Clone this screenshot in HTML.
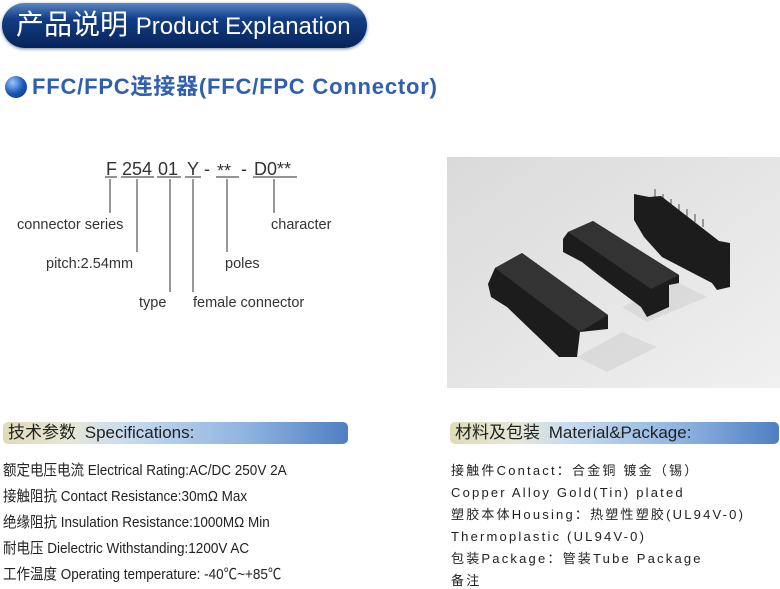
<!DOCTYPE html>
<html><head><meta charset="utf-8"><style>
body{margin:0;width:780px;height:575px;overflow:hidden;background:#fff;position:relative;font-family:"Liberation Sans","Noto Sans CJK SC",sans-serif}
.a{position:absolute;white-space:nowrap}
.hdr{left:2px;top:3px;width:365px;height:45px;border-radius:23px;background:linear-gradient(#5a86c4 0%,#123d85 35%,#062459 100%);box-shadow:0 1px 3px #789}
.bar{height:22px;border-radius:5px;background:linear-gradient(90deg,#dfdcb8 0%,#e6e7d6 20%,#c9dcef 35%,#8fb4e0 70%,#4f7fc4 100%)}
.sp{font-size:15px;line-height:16px;color:#222;transform:scaleX(.9);transform-origin:left}
.mp{font-size:13px;line-height:16px;color:#222;letter-spacing:2.2px}
</style></head><body>
<div class="a hdr"></div>
<div class="a" style="left:16px;top:7px;color:#fff;font-size:28px;line-height:36px">产品说明 <span style="font-size:24px">Product Explanation</span></div>
<div class="a" style="left:5px;top:76px;width:22px;height:22px;border-radius:50%;background:radial-gradient(circle at 35% 30%,#9cc4ff,#1e5bb8 50%,#0a2f70)"></div>
<div class="a" style="left:32px;top:73px;color:#2f5fae;font-size:22px;letter-spacing:.8px;font-weight:bold;line-height:28px">FFC/FPC连接器(FFC/FPC Connector)</div>

<svg class="a" style="left:0;top:150px" width="340" height="170">
<g font-family="Liberation Sans,sans-serif" font-size="18" fill="#333">
<text x="106" y="25">F</text><text x="122" y="25">254</text><text x="158" y="25">01</text><text x="187" y="25">Y</text><text x="204" y="25">-</text><text x="217" y="27">**</text><text x="241" y="25">-</text><text x="254" y="25">D0**</text>
</g>
<g stroke="#555" stroke-width="1.2" fill="none">
<path d="M105 27H117M121 27H154M157 27H181M185 27H201M216 27H239M253 27H297"/>
<path d="M110 29V63M137 29V102M170 29V142M193 29V142M227 29V102M274 29V63"/>
</g>
<g font-family="Liberation Sans,sans-serif" font-size="14.5" fill="#333">
<text x="17" y="79">connector series</text><text x="271" y="79">character</text>
<text x="46" y="118">pitch:2.54mm</text><text x="225" y="118">poles</text>
<text x="139" y="157">type</text><text x="193" y="157">female connector</text>
</g></svg>

<svg class="a" style="left:447px;top:157px" width="333" height="231">
<defs><linearGradient id="g" x1="0" y1="0" x2="1" y2="1"><stop offset="0" stop-color="#dadada"/><stop offset="1" stop-color="#f0f0f0"/></linearGradient></defs>
<rect width="333" height="231" fill="url(#g)"/>
<g fill="#d2d2d2" opacity=".6">
<polygon points="130,200 175,175 210,190 160,215"/><polygon points="175,150 230,125 260,140 200,165"/>
</g>
<g stroke="#999" stroke-width="2">
<path d="M65 140l-8 4M73 146l-8 4M81 152l-8 4M89 158l-8 4M97 164l-8 4M105 170l-8 4M113 176l-8 4"/>
<path d="M208 40v-8M216 45v-8M224 50v-8M232 55v-8M240 60v-8M248 65v-8M256 70v-8"/>
<path d="M140 80l8-3M148 86l8-3M156 92l8-3M164 98l8-3"/>
</g>
<g fill="#1c1c1c">
<polygon points="41,127 48,111 75,96 161,158 161,172 133,175 130,200 112,200 60,150 44,140"/>
<polygon points="116,82 121,75 146,64 232,118 232,126 222,128 222,150 200,160 194,150 150,117 135,105 116,95"/>
<polygon points="187,37 202,40 214,39 272,84 283,86 283,130 270,133 265,126 215,100 197,80 187,63"/>
</g>
<g fill="#333">
<polygon points="48,111 75,96 161,158 133,175"/>
<polygon points="121,75 146,64 232,118 204,132"/>
</g>
</svg>

<div class="a bar" style="left:3px;top:422px;width:345px"></div>
<div class="a" style="left:8px;top:421px;font-size:17px;color:#222;line-height:24px">技术参数 <span style="margin-left:4px">Specifications:</span></div>
<div class="a bar" style="left:450px;top:422px;width:329px"></div>
<div class="a" style="left:455px;top:421px;font-size:17px;color:#222;line-height:24px">材料及包装 <span style="margin-left:4px">Material&amp;Package:</span></div>

<div class="a sp" style="left:3px;top:463px">额定电压电流 Electrical Rating:AC/DC 250V 2A</div>
<div class="a sp" style="left:3px;top:489px">接触阻抗 Contact Resistance:30mΩ Max</div>
<div class="a sp" style="left:3px;top:515px">绝缘阻抗 Insulation Resistance:1000MΩ Min</div>
<div class="a sp" style="left:3px;top:541px">耐电压 Dielectric Withstanding:1200V AC</div>
<div class="a sp" style="left:3px;top:567px">工作温度 Operating temperature: -40℃~+85℃</div>

<div class="a mp" style="left:451px;top:463px">接触件Contact：合金铜 镀金（锡）</div>
<div class="a mp" style="left:451px;top:485px">Copper Alloy Gold(Tin) plated</div>
<div class="a mp" style="left:451px;top:507px">塑胶本体Housing：热塑性塑胶(UL94V-0)</div>
<div class="a mp" style="left:451px;top:529px">Thermoplastic (UL94V-0)</div>
<div class="a mp" style="left:451px;top:551px">包装Package：管装Tube Package</div>
<div class="a mp" style="left:451px;top:573px">备注</div>
</body></html>
